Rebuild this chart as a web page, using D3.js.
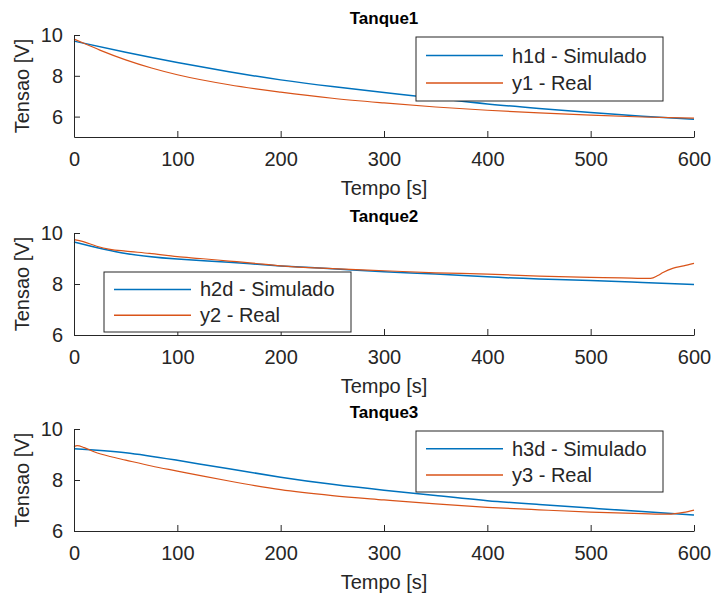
<!DOCTYPE html>
<html>
<head>
<meta charset="utf-8">
<script src="https://cdn.jsdelivr.net/npm/d3@7"></script>
<style>
  body { margin: 0; background: #fff; }
  text { font-family: "Liberation Sans", Arial, Helvetica, sans-serif; fill: #262626; }
</style>
</head>
<body>
<script>
// Time samples (s)
var tSim = [0, 50, 100, 150, 200, 250, 300, 350, 400, 450, 500, 550, 600];

// Tanque1
var h1d = [9.7, 9.15, 8.65, 8.2, 7.8, 7.47, 7.18, 6.9, 6.62, 6.4, 6.2, 6.02, 5.87];
var t1Real = [0, 10, 25, 50, 75, 100, 150, 200, 250, 300, 350, 400, 450, 500, 550, 600];
var y1 = [9.8, 9.58, 9.26, 8.78, 8.38, 8.05, 7.56, 7.2, 6.9, 6.67, 6.47, 6.31, 6.18, 6.07, 5.98, 5.93];

// Tanque2
var h2d = [9.65, 9.2, 8.98, 8.85, 8.71, 8.6, 8.48, 8.39, 8.28, 8.2, 8.14, 8.06, 7.98];
var t2Real = [0, 9, 22, 35, 50, 73, 100, 122, 150, 170, 200, 250, 300, 350, 400, 450, 500, 530, 558, 565, 570, 580, 590, 600];
var y2 = [9.74, 9.66, 9.48, 9.36, 9.29, 9.2, 9.07, 9.0, 8.9, 8.83, 8.71, 8.6, 8.52, 8.44, 8.39, 8.31, 8.26, 8.24, 8.22, 8.33, 8.45, 8.62, 8.71, 8.81];

// Tanque3
var h3d = [9.23, 9.07, 8.77, 8.44, 8.11, 7.83, 7.6, 7.39, 7.19, 7.04, 6.9, 6.76, 6.63];
var t3Real = [0, 3, 10, 20, 35, 50, 75, 100, 125, 150, 175, 200, 250, 300, 350, 400, 450, 500, 550, 575, 590, 600];
var y3 = [9.3, 9.35, 9.27, 9.1, 8.92, 8.78, 8.55, 8.35, 8.15, 7.96, 7.78, 7.62, 7.39, 7.22, 7.06, 6.93, 6.83, 6.74, 6.68, 6.66, 6.73, 6.82];

var xTicks = [0, 100, 200, 300, 400, 500, 600];

var panels = [
  { title: "Tanque1", top: 35, yDomain: [5, 10], yTicks: [6, 8, 10],
    sim: h1d, tReal: t1Real, real: y1, names: ["h1d - Simulado", "y1 - Real"],
    legend: { x: 416, y: 37, w: 247, h: 64 } },
  { title: "Tanque2", top: 233, yDomain: [6, 10], yTicks: [6, 8, 10],
    sim: h2d, tReal: t2Real, real: y2, names: ["h2d - Simulado", "y2 - Real"],
    legend: { x: 104, y: 272, w: 247, h: 60 } },
  { title: "Tanque3", top: 429, yDomain: [6, 10], yTicks: [6, 8, 10],
    sim: h3d, tReal: t3Real, real: y3, names: ["h3d - Simulado", "y3 - Real"],
    legend: { x: 416, y: 431, w: 247, h: 61 } }
];

var width = 712, height = 597;
var left = 74, right = 694, plotH = 102;
var blue = "#0072BD", orange = "#D95319", axisColor = "#262626";
var fs = "20px";

var svg = d3.select("body").append("svg")
    .attr("width", width)
    .attr("height", height);

var x = d3.scaleLinear().domain([0, 600]).range([left, right]);

panels.forEach(function(p) {
  var y = d3.scaleLinear().domain(p.yDomain).range([p.top + plotH, p.top]);
  var g = svg.append("g");

  function makeLine(curve) {
    return d3.line()
      .x(function(d) { return x(d[0]); })
      .y(function(d) { return y(d[1]); })
      .curve(curve);
  }

  // simulated curve is smooth, real one follows the samples
  g.append("path")
      .datum(tSim.map(function(t, i) { return [t, p.sim[i]]; }))
      .attr("fill", "none")
      .attr("stroke", blue)
      .attr("stroke-width", 1.5)
      .attr("d", makeLine(d3.curveNatural));

  g.append("path")
      .datum(p.tReal.map(function(t, i) { return [t, p.real[i]]; }))
      .attr("fill", "none")
      .attr("stroke", orange)
      .attr("stroke-width", 1.2)
      .attr("d", makeLine(d3.curveMonotoneX));

  // axes (ticks pointing inward, like MATLAB)
  var xAxis = g.append("g")
      .attr("transform", "translate(0," + (p.top + plotH) + ")")
      .call(d3.axisBottom(x).tickValues(xTicks).tickFormat(d3.format("d"))
        .tickSizeInner(-6).tickSizeOuter(0).tickPadding(15));
  var yAxis = g.append("g")
      .attr("transform", "translate(" + left + ",0)")
      .call(d3.axisLeft(y).tickValues(p.yTicks).tickFormat(d3.format("d"))
        .tickSizeInner(-6).tickSizeOuter(0).tickPadding(11));

  [xAxis, yAxis].forEach(function(a) {
    a.select(".domain").attr("stroke", axisColor);
    a.selectAll(".tick line").attr("stroke", axisColor);
    a.selectAll(".tick text")
      .style("font-family", "Liberation Sans, Arial, sans-serif")
      .style("font-size", fs)
      .attr("fill", axisColor);
  });

  // title
  g.append("text")
      .attr("x", (left + right) / 2)
      .attr("y", p.top - 11)
      .attr("text-anchor", "middle")
      .style("font-size", "17px")
      .style("font-weight", "bold")
      .style("fill", "#000")
      .text(p.title);

  // axis labels
  g.append("text")
      .attr("x", (left + right) / 2)
      .attr("y", p.top + plotH + 58)
      .attr("text-anchor", "middle")
      .style("font-size", fs)
      .text("Tempo [s]");

  g.append("text")
      .attr("transform", "translate(29," + (p.top + plotH / 2) + ") rotate(-90)")
      .attr("text-anchor", "middle")
      .style("font-size", fs)
      .text("Tensao [V]");

  // legend
  var L = p.legend;
  var leg = g.append("g");
  leg.append("rect")
      .attr("x", L.x).attr("y", L.y)
      .attr("width", L.w).attr("height", L.h)
      .attr("fill", "#fff")
      .attr("stroke", axisColor)
      .attr("stroke-width", 1);

  [blue, orange].forEach(function(c, i) {
    var rowY = L.y + L.h * (i === 0 ? 0.29 : 0.72);
    leg.append("line")
        .attr("x1", L.x + 10).attr("x2", L.x + 87)
        .attr("y1", rowY).attr("y2", rowY)
        .attr("stroke", c)
        .attr("stroke-width", 1.5);
    leg.append("text")
        .attr("x", L.x + 96)
        .attr("y", rowY)
        .attr("dy", "0.35em")
        .style("font-size", fs)
        .text(p.names[i]);
  });
});
</script>
</body>
</html>
